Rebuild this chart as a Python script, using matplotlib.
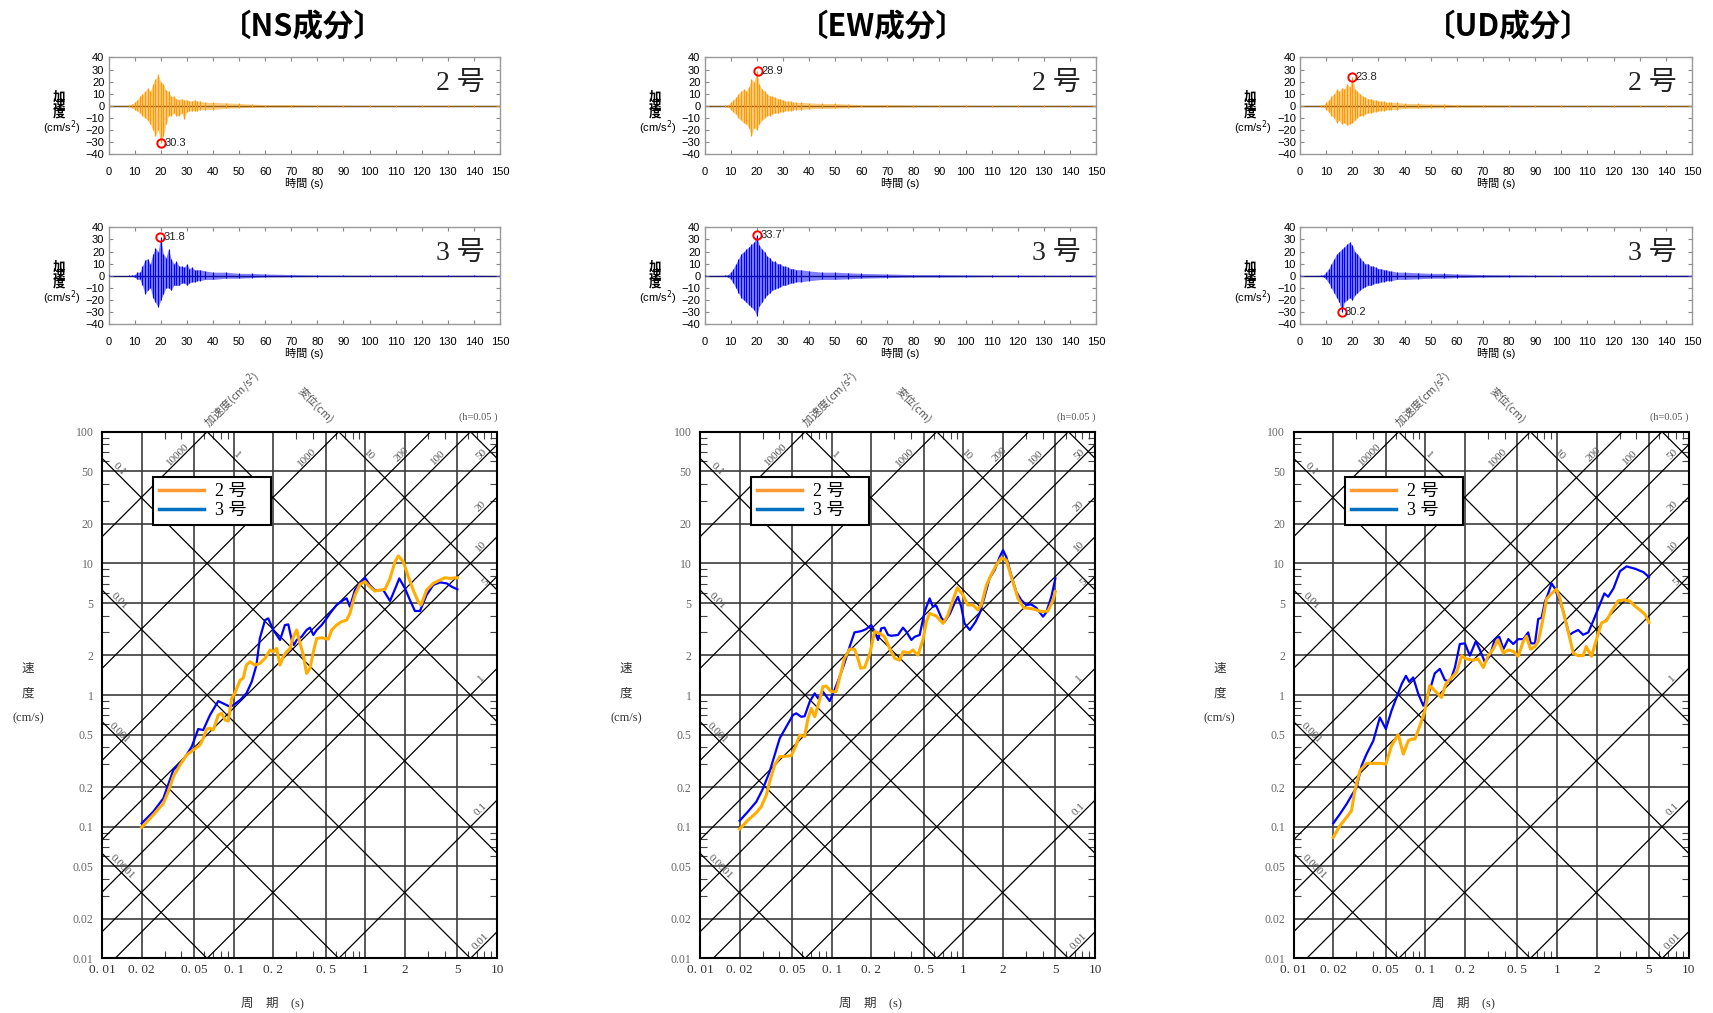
import numpy as np
import matplotlib
matplotlib.use('Agg')
import matplotlib.pyplot as plt
from matplotlib.lines import Line2D
from matplotlib.ticker import LogLocator, NullFormatter

W, H = 1713, 1013
SANS = ['Liberation Sans', 'Noto Sans CJK JP', 'DejaVu Sans']
SERIF = ['Liberation Serif', 'Noto Sans CJK JP', 'DejaVu Sans']
JP = ['Noto Sans CJK JP', 'DejaVu Sans']
plt.rcParams['font.family'] = SANS

# ---- time histories (envelope, cm/s2) ----
wave_t = [0, 8, 9, 10, 11, 12, 13, 14, 15, 16, 17, 18, 19, 20, 21, 22, 23, 24, 25, 26, 27,
          28, 29, 30, 31, 32, 33, 34, 35, 37, 40, 45, 50, 55, 60, 70, 80, 90, 100, 110,
          120, 130, 140, 150]

ns2_up = [0.3, 0.5, 1.5, 3, 5, 8, 10, 12, 15, 12, 18, 22, 26, 20, 18, 13, 12, 8, 8, 6, 5,
          6, 5, 5, 4, 4, 5, 4, 4, 3, 3, 2.5, 2, 1.5, 1, 1, 0.7, 0.6, 0.5, 0.5, 0.5, 0.5, 0.5, 0.5]
ns2_lo = [-0.3, -0.5, -1.5, -3, -4, -6, -8, -10, -12, -15, -20, -25, -20, -30.3, -25, -15, -8,
          -8, -6, -8, -8, -6, -11, -5, -4, -4, -4, -4, -3, -3, -3, -2, -1.5, -1.2, -1, -0.8,
          -0.6, -0.5, -0.5, -0.5, -0.5, -0.5, -0.5, -0.5]
ns3_up = [0.3, 0.3, 0.5, 1, 3, 3, 8, 13, 14, 10, 18, 23, 20, 31.8, 18, 15, 22, 14, 10, 12, 8,
          8, 7, 10, 6, 7, 5, 5, 5, 4, 3, 3, 2, 2, 1.5, 1, 0.7, 0.6, 0.5, 0.5, 0.5, 0.5, 0.5, 0.3]
ns3_lo = [-0.3, -0.3, -0.5, -1, -3, -3, -8, -15, -12, -10, -18, -22, -26, -20, -15, -10, -10,
          -12, -8, -8, -8, -6, -6, -8, -6, -5, -5, -4, -4, -3, -3, -2, -2, -1.5, -1, -0.8,
          -0.6, -0.5, -0.5, -0.5, -0.5, -0.5, -0.5, -0.3]
ew2_up = [0.3, 0.5, 1, 3, 5, 7, 10, 12, 14, 12, 16, 22, 20, 28.9, 18, 14, 12, 10, 8, 8, 7,
          6, 6, 5, 4, 4, 4, 3, 3, 3, 2.5, 2, 2, 1.5, 1, 1, 0.7, 0.6, 0.5, 0.5, 0.5, 0.5, 0.5, 0.5]
ew2_lo = [-0.3, -0.5, -1, -3, -5, -7, -10, -12, -14, -15, -18, -25, -18, -20, -15, -12, -10,
          -8, -8, -7, -6, -6, -5, -5, -4, -4, -4, -3, -3, -3, -2.5, -2, -2, -1.5, -1, -1,
          -0.7, -0.6, -0.5, -0.5, -0.5, -0.5, -0.5, -0.5]
ew3_up = [0.3, 0.5, 1, 3, 6, 10, 14, 18, 20, 22, 24, 26, 28, 33.7, 25, 22, 20, 16, 15, 12,
          12, 10, 10, 8, 8, 7, 6, 6, 5, 5, 4, 3, 3, 2.5, 2, 1.5, 1, 1, 0.8, 0.6, 0.6, 0.5, 0.5, 0.5]
ew3_lo = [-0.3, -0.5, -1, -3, -6, -10, -14, -18, -20, -22, -24, -26, -28, -33, -25, -22, -18,
          -16, -14, -12, -11, -10, -9, -8, -8, -7, -6, -6, -5, -5, -4, -3, -3, -2.5, -2, -1.5,
          -1, -1, -0.8, -0.6, -0.6, -0.5, -0.5, -0.5]
ud2_up = [0.3, 0.5, 1, 3, 5, 8, 10, 14, 12, 15, 14, 18, 16, 23.8, 14, 12, 10, 8, 7, 6, 6,
          5, 5, 4, 4, 4, 3, 3, 3, 3, 2, 2, 1.5, 1.5, 1, 1, 0.7, 0.6, 0.5, 0.5, 0.5, 0.5, 0.5, 0.5]
ud2_lo = [-0.3, -0.5, -1, -3, -5, -8, -10, -14, -12, -15, -14, -16, -15, -14, -12, -10, -8,
          -8, -7, -6, -6, -5, -5, -4, -4, -4, -3, -3, -3, -3, -2, -2, -1.5, -1.5, -1, -1,
          -0.7, -0.6, -0.5, -0.5, -0.5, -0.5, -0.5, -0.5]
ud3_up = [0.3, 0.5, 1, 3, 6, 10, 14, 18, 20, 22, 24, 26, 28, 25, 20, 18, 15, 12, 10, 10, 8,
          8, 7, 6, 6, 5, 5, 4, 4, 3, 3, 2.5, 2, 2, 1.5, 1, 0.8, 0.6, 0.5, 0.5, 0.5, 0.5, 0.5, 0.5]
ud3_lo = [-0.3, -0.5, -1, -3, -6, -10, -14, -18, -22, -30.2, -22, -20, -18, -20, -16, -14,
          -12, -10, -9, -8, -8, -7, -6, -6, -5, -5, -4, -4, -4, -3, -3, -2.5, -2, -2, -1.5,
          -1, -0.8, -0.6, -0.5, -0.5, -0.5, -0.5, -0.5, -0.5]

# peak markers (time s, value cm/s2)
peaks = {'ns2': (20.3, -30.3), 'ns3': (19.8, 31.8), 'ew2': (20.5, 28.9),
         'ew3': (20.3, 33.7), 'ud2': (20.0, 23.8), 'ud3': (16.0, -30.2)}

# ---- velocity response spectra (h=0.05), period s / velocity cm/s ----
ns_t2 = [0.020, 0.0245, 0.0292, 0.0319, 0.0348, 0.0391, 0.0439, 0.0493, 0.0554, 0.0587, 0.0623,
         0.0661, 0.070, 0.0764, 0.081, 0.0859, 0.091, 0.0966, 0.102, 0.112, 0.118, 0.125, 0.133,
         0.145, 0.158, 0.173, 0.189, 0.200, 0.212, 0.225, 0.238, 0.252, 0.268, 0.284, 0.301,
         0.319, 0.338, 0.358, 0.380, 0.403, 0.427, 0.466, 0.524, 0.555, 0.605, 0.661, 0.721,
         0.764, 0.787, 0.834, 0.910, 0.993, 1.08, 1.18, 1.29, 1.41, 1.54, 1.68, 1.78, 1.94,
         2.12, 2.31, 2.52, 2.65, 2.92, 3.28, 3.69, 4.03, 4.40, 5.0]
ns_s2 = [0.0988, 0.123, 0.150, 0.185, 0.240, 0.294, 0.350, 0.382, 0.417, 0.469, 0.552, 0.559,
         0.542, 0.705, 0.726, 0.646, 0.635, 0.944, 1.03, 1.30, 1.34, 1.69, 1.79, 1.69, 1.74,
         1.90, 2.20, 2.13, 2.26, 1.69, 1.96, 2.13, 2.26, 2.77, 3.12, 2.47, 2.01, 1.46, 1.60,
         2.13, 2.69, 2.72, 2.66, 3.12, 3.40, 3.61, 3.71, 4.17, 4.69, 5.75, 6.93, 7.26, 6.65,
         6.16, 6.27, 6.35, 7.69, 10.3, 11.4, 10.3, 7.93, 6.27, 5.12, 4.83, 6.27, 7.05, 7.47,
         7.78, 7.69, 7.78]
ns_t3 = [0.020, 0.0245, 0.0292, 0.0348, 0.0414, 0.048, 0.0538, 0.0587, 0.0661, 0.0764, 0.0885,
         0.0937, 0.0994, 0.112, 0.125, 0.137, 0.149, 0.158, 0.173, 0.183, 0.200, 0.225, 0.245,
         0.260, 0.276, 0.287, 0.301, 0.328, 0.358, 0.380, 0.403, 0.427, 0.466, 0.508, 0.539,
         0.605, 0.681, 0.721, 0.764, 0.834, 0.910, 0.993, 1.08, 1.18, 1.37, 1.54, 1.73, 1.81,
         2.00, 2.18, 2.38, 2.60, 2.92, 3.28, 3.69, 4.15, 4.53, 5.0]
ns_s3 = [0.106, 0.130, 0.164, 0.269, 0.321, 0.405, 0.552, 0.542, 0.705, 0.900, 0.839, 0.815,
         0.839, 0.917, 1.03, 1.26, 1.69, 2.69, 3.71, 3.82, 3.12, 2.62, 3.40, 3.44, 2.62, 2.40,
         2.62, 2.77, 3.12, 3.25, 2.86, 3.12, 3.40, 3.82, 4.17, 4.83, 5.27, 5.42, 4.69, 6.27,
         7.05, 7.78, 6.85, 6.27, 6.27, 5.18, 6.85, 7.69, 6.46, 5.27, 4.35, 4.35, 5.75, 6.85,
         7.17, 7.05, 6.65, 6.35]

ew_t2 = [0.020, 0.0231, 0.0268, 0.0292, 0.0319, 0.0338, 0.0369, 0.0403, 0.0493, 0.0538, 0.0571,
         0.0623, 0.0661, 0.070, 0.0743, 0.081, 0.0859, 0.091, 0.0994, 0.108, 0.118, 0.125,
         0.137, 0.149, 0.158, 0.166, 0.178, 0.195, 0.212, 0.231, 0.252, 0.276, 0.301, 0.328,
         0.348, 0.392, 0.414, 0.452, 0.493, 0.524, 0.555, 0.623, 0.701, 0.764, 0.834, 0.900,
         0.993, 1.08, 1.18, 1.29, 1.37, 1.50, 1.62, 1.78, 1.94, 2.12, 2.31, 2.60, 2.87, 3.16,
         3.46, 3.92, 4.40, 4.80, 5.0]
ew_s2 = [0.096, 0.112, 0.128, 0.142, 0.174, 0.220, 0.294, 0.340, 0.346, 0.417, 0.497, 0.484,
         0.665, 0.792, 0.684, 0.917, 1.16, 1.17, 1.06, 1.06, 1.50, 1.90, 2.23, 2.23, 1.90, 1.60,
         1.62, 2.07, 3.03, 2.95, 2.77, 2.26, 1.90, 1.84, 2.13, 2.10, 2.20, 2.01, 2.62, 3.61,
         4.17, 3.98, 3.50, 4.05, 5.27, 6.53, 5.75, 4.83, 4.83, 4.43, 4.83, 6.85, 8.15, 9.71,
         11.0, 10.6, 7.93, 5.42, 4.60, 4.55, 4.48, 4.30, 4.35, 5.27, 6.10]
ew_t3 = [0.020, 0.0231, 0.0268, 0.0301, 0.0338, 0.0403, 0.0452, 0.0508, 0.0538, 0.0587, 0.0623,
         0.0681, 0.0743, 0.0788, 0.0859, 0.0966, 0.105, 0.115, 0.125, 0.137, 0.149, 0.168,
         0.183, 0.200, 0.212, 0.225, 0.238, 0.252, 0.268, 0.284, 0.319, 0.348, 0.369, 0.403,
         0.427, 0.466, 0.508, 0.555, 0.587, 0.623, 0.681, 0.721, 0.787, 0.859, 0.910, 0.964,
         1.02, 1.12, 1.24, 1.33, 1.45, 1.58, 1.73, 1.89, 2.00, 2.12, 2.31, 2.52, 2.75, 3.01,
         3.28, 3.58, 4.03, 4.27, 4.66, 5.0]
ew_s3 = [0.111, 0.130, 0.155, 0.195, 0.262, 0.469, 0.574, 0.705, 0.726, 0.684, 0.69, 0.889,
         1.03, 0.944, 1.06, 0.900, 1.09, 1.38, 1.74, 2.33, 2.99, 3.06, 3.17, 3.40, 3.03, 2.62,
         3.21, 3.25, 2.86, 2.82, 2.86, 3.25, 3.03, 2.62, 2.77, 2.86, 4.30, 5.42, 4.69, 4.77,
         3.86, 3.61, 4.10, 5.0, 5.58, 4.69, 3.50, 3.12, 3.61, 4.17, 5.58, 7.69, 8.90, 11.2,
         12.6, 11.2, 8.15, 6.10, 5.27, 4.83, 4.88, 4.60, 3.94, 4.26, 5.58, 7.69]

ud_t2 = [0.020, 0.0225, 0.0253, 0.0275, 0.0292, 0.0319, 0.0358, 0.0403, 0.0452, 0.0502, 0.0554,
         0.0623, 0.0681, 0.0743, 0.0788, 0.0835, 0.091, 0.0994, 0.108, 0.118, 0.133, 0.143,
         0.158, 0.173, 0.189, 0.205, 0.231, 0.252, 0.276, 0.301, 0.328, 0.356, 0.392, 0.427,
         0.466, 0.508, 0.555, 0.587, 0.630, 0.681, 0.721, 0.777, 0.834, 0.910, 0.993, 1.06,
         1.16, 1.26, 1.33, 1.45, 1.58, 1.67, 1.83, 2.00, 2.18, 2.38, 2.60, 2.92, 3.28, 3.58,
         3.91, 4.27, 4.66, 5.0]
ud_s2 = [0.083, 0.102, 0.118, 0.132, 0.188, 0.266, 0.303, 0.303, 0.303, 0.299, 0.412, 0.500,
         0.356, 0.450, 0.463, 0.463, 0.585, 0.760, 1.18, 1.08, 0.959, 1.21, 1.35, 1.49, 1.99,
         1.88, 1.84, 1.88, 1.62, 1.99, 2.23, 2.63, 2.08, 2.20, 2.15, 1.97, 2.56, 2.79, 2.23,
         2.33, 2.56, 3.63, 5.37, 5.91, 6.38, 5.28, 3.67, 2.63, 2.08, 1.99, 1.99, 2.33, 1.97,
         2.66, 3.53, 3.67, 4.32, 5.20, 5.28, 5.17, 4.74, 4.43, 4.10, 3.56]
ud_t3 = [0.020, 0.0225, 0.0253, 0.0275, 0.0301, 0.0328, 0.0358, 0.0403, 0.0452, 0.0502, 0.0554,
         0.0605, 0.0661, 0.0713, 0.0755, 0.081, 0.0885, 0.0966, 0.108, 0.118, 0.129, 0.141,
         0.154, 0.168, 0.183, 0.200, 0.218, 0.242, 0.260, 0.284, 0.310, 0.338, 0.365, 0.392,
         0.427, 0.466, 0.508, 0.555, 0.605, 0.633, 0.681, 0.721, 0.764, 0.811, 0.859, 0.910,
         0.964, 1.02, 1.12, 1.24, 1.33, 1.45, 1.58, 1.73, 1.89, 2.05, 2.29, 2.45, 2.69, 3.01,
         3.38, 3.91, 4.53, 5.0]
ud_s3 = [0.106, 0.125, 0.149, 0.172, 0.199, 0.290, 0.356, 0.450, 0.676, 0.552, 0.760, 0.959,
         1.21, 1.40, 1.26, 1.36, 1.02, 0.830, 1.08, 1.46, 1.58, 1.30, 1.26, 1.62, 2.44, 2.47,
         1.99, 2.56, 2.20, 1.77, 1.99, 2.66, 2.77, 2.23, 2.66, 2.44, 2.66, 2.66, 2.99, 2.47,
         2.47, 3.78, 3.86, 5.12, 5.91, 7.05, 6.46, 5.58, 4.30, 2.86, 2.99, 3.12, 2.87, 2.99,
         3.67, 4.50, 5.91, 5.58, 6.46, 8.71, 9.49, 9.11, 8.59, 7.87]

# tripartite grid
acc_lines = [0.01, 0.1, 1, 5, 10, 20, 50, 100, 200, 1000, 10000]      # cm/s2
disp_lines = [0.0001, 0.001, 0.01, 0.1, 1, 10, 100]                    # cm
period_ticks = [0.01, 0.02, 0.05, 0.1, 0.2, 0.5, 1, 2, 5, 10]
period_labels = ['0. 01', '0. 02', '0. 05', '0. 1', '0. 2', '0. 5', '1', '2', '5', '10']
vel_ticks = [0.01, 0.02, 0.05, 0.1, 0.2, 0.5, 1, 2, 5, 10, 20, 50, 100]
vel_labels = ['0.01', '0.02', '0.05', '0.1', '0.2', '0.5', '1', '2', '5', '10', '20', '50', '100']

titles = ['〔NS成分〕', '〔EW成分〕', '〔UD成分〕']


def rect(l, t, r, b):
    return [l / W, 1 - b / H, (r - l) / W, (b - t) / H]


def draw_wave(ax, up, lo, color, peak, name):
    t = np.array(wave_t)
    ax.axhline(0, color='#222222', lw=1.0, zorder=1)
    ax.fill_between(t, lo, up, color=color, alpha=0.5, lw=0, zorder=2)
    ax.vlines(t, lo, up, color=color, lw=0.8, zorder=3)
    ax.plot(peak[0], peak[1], 'o', ms=6, mfc='none', mec='#ff0000', mew=1.4, zorder=5)
    ax.text(peak[0] + 1.2, peak[1], f'{abs(peak[1]):.1f}', ha='left', va='center',
            fontsize=8, color='#222222', zorder=6)
    ax.text(0.962, 0.73, name, transform=ax.transAxes, ha='right', va='center',
            fontsize=20, family=SERIF, color='#222222')
    ax.set_xlim(0, 150)
    ax.set_ylim(-40, 40)
    ax.set_xticks(range(0, 151, 10))
    ax.set_yticks(range(-40, 41, 10))
    ax.tick_params(direction='in', length=3, width=0.8, color='#888888', labelsize=8,
                   top=True, right=True)
    ax.tick_params(axis='x', pad=9)
    ax.tick_params(axis='y', pad=3)
    for s in ax.spines.values():
        s.set_color('#999999')
        s.set_linewidth(1.0)
    ax.set_xlabel('時間 (s)', fontsize=8, labelpad=1)


def draw_spectrum(ax, t2, s2, t3, s3):
    tt = np.array([1e-4, 1e3])
    for a in acc_lines:
        ax.plot(tt, a * tt / (2 * np.pi), color='k', lw=0.9, zorder=2)
    for d in disp_lines:
        ax.plot(tt, 2 * np.pi * d / tt, color='k', lw=0.9, zorder=2)
    ax.plot(t3, s3, color='#0000ff', lw=1.6, zorder=4)
    ax.plot(t2, s2, color='#ffad00', lw=2.2, zorder=5)
    ax.set_xscale('log')
    ax.set_yscale('log')
    ax.set_xlim(0.01, 10)
    ax.set_ylim(0.01, 100)
    ax.set_xticks(period_ticks, period_labels)
    ax.set_yticks(vel_ticks, vel_labels)
    ax.xaxis.set_minor_locator(LogLocator(base=10, subs=(3, 4, 6, 7, 8, 9)))
    ax.yaxis.set_minor_locator(LogLocator(base=10, subs=(3, 4, 6, 7, 8, 9)))
    ax.xaxis.set_minor_formatter(NullFormatter())
    ax.yaxis.set_minor_formatter(NullFormatter())
    ax.grid(True, which='major', color='#3c3c3c', lw=1.2, zorder=1)
    ax.tick_params(which='major', length=0)
    ax.tick_params(axis='x', which='major', pad=4, labelsize=9.5, labelcolor='#333333')
    ax.tick_params(axis='y', which='major', pad=6, labelsize=8.5, labelcolor='#666666')
    ax.tick_params(which='minor', direction='in', length=5, width=0.8, color='#444444',
                   top=True, right=True)
    for lab in ax.get_xticklabels() + ax.get_yticklabels():
        lab.set_fontfamily(SERIF)
    for s in ax.spines.values():
        s.set_color('k')
        s.set_linewidth(1.5)
    # labels on the diagonal lines
    acc_lab = [('10000', 0.04), ('1000', 0.38), ('200', 2.0), ('100', 3.8), ('50', 8.0),
               ('20', 8.0), ('10', 8.0), ('5', 8.6), ('1', 8.0), ('0.1', 8.0), ('0.01', 8.0)]
    for s, T in acc_lab:
        a = float(s)
        ax.text(T, a * T / (2 * np.pi), s, rotation=45, rotation_mode='anchor', ha='center',
                va='bottom', fontsize=8, color='#555555', family=SERIF, zorder=3)
    disp_lab = [('0.1', 0.0128), ('0.01', 0.0128), ('0.001', 0.0128), ('0.0001', 0.0135),
                ('1', 0.1), ('10', 1.0)]
    for s, T in disp_lab:
        d = float(s)
        ax.text(T, 2 * np.pi * d / T, s, rotation=-45, rotation_mode='anchor', ha='center',
                va='bottom', fontsize=8, color='#555555', family=SERIF, zorder=3)
    handles = [Line2D([], [], color='#ff9933', lw=2.5), Line2D([], [], color='#0070c0', lw=2.5)]
    leg = ax.legend(handles, ['2 号　', '3 号　'], loc='upper left',
                    bbox_to_anchor=(0.129, 0.914), borderaxespad=0, frameon=True,
                    fancybox=False, edgecolor='k', framealpha=1,
                    prop={'family': SERIF, 'size': 13}, handlelength=2.5,
                    handletextpad=0.6, borderpad=0.35, labelspacing=0.1)
    leg.get_frame().set_linewidth(1.5)
    leg.set_zorder(6)


fig = plt.figure(figsize=(W / 100, H / 100), dpi=100)

wave_l = [108.5, 704.5, 1300]
wave_r = [500, 1096, 1692]
spec_l = [102, 700, 1293.6]
title_x = [303, 882, 1508]
waves = [(ns2_up, ns2_lo, ns3_up, ns3_lo, 'ns'), (ew2_up, ew2_lo, ew3_up, ew3_lo, 'ew'),
         (ud2_up, ud2_lo, ud3_up, ud3_lo, 'ud')]
spectra = [(ns_t2, ns_s2, ns_t3, ns_s3), (ew_t2, ew_s2, ew_t3, ew_s3),
           (ud_t2, ud_s2, ud_t3, ud_s3)]

for i in range(3):
    up2, lo2, up3, lo3, key = waves[i]
    fig.text(title_x[i] / W, 1 - 27 / H, titles[i], ha='center', va='center', fontsize=22,
             fontweight='bold', family=JP)

    ax1 = fig.add_axes(rect(wave_l[i], 57.5, wave_r[i], 154.3))
    draw_wave(ax1, up2, lo2, '#ff9900', peaks[key + '2'], '2 号')
    ax2 = fig.add_axes(rect(wave_l[i], 227.3, wave_r[i], 324.3))
    draw_wave(ax2, up3, lo3, '#0000ff', peaks[key + '3'], '3 号')
    for yy in (105, 275):
        fig.text((wave_l[i] - 50) / W, 1 - yy / H, '加\n速\n度', ha='center', va='center',
                 fontsize=9, linespacing=0.5, family=JP, fontweight='bold')
        fig.text((wave_l[i] - 47) / W, 1 - (yy + 23) / H, '(cm/s$^2$)', ha='center',
                 va='center', fontsize=8)

    l = spec_l[i]
    ax3 = fig.add_axes(rect(l, 431.7, l + 395, 958.4))
    draw_spectrum(ax3, *spectra[i])
    fig.text((l + 376) / W, 1 - 417 / H, '(h=0.05 )', ha='center', va='center', fontsize=7.5,
             color='#555555', family=SERIF)
    fig.text((l + 130) / W, 1 - 400 / H, '加速度(cm/s$^2$)', ha='center', va='center',
             fontsize=8, rotation=45, color='#555555', family=JP)
    fig.text((l + 214) / W, 1 - 405 / H, '変位(cm)', ha='center', va='center', fontsize=8,
             rotation=-45, color='#555555', family=JP)
    for s, yy in (('速', 669), ('度', 694), ('(cm/s)', 718)):
        fig.text((l - 74) / W, 1 - yy / H, s, ha='center', va='center', fontsize=9,
                 color='#333333', family=SERIF)
    fig.text((l + 170) / W, 1 - 1003 / H, '周　期　(s)', ha='center', va='center', fontsize=9,
             color='#333333', family=SERIF)

fig.savefig('out.png', dpi=100)
